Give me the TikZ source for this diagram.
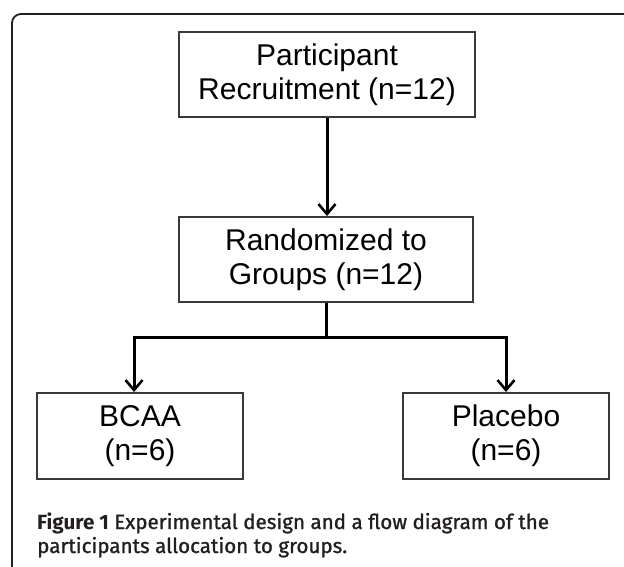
\documentclass[tikz,border=0pt]{standalone}
\usepackage{fontspec}
\setmainfont{Liberation Sans}
\newfontfamily\capfont{Fira Sans}
\newfontfamily\capfontheavy{Fira Sans}[FakeBold=1.2]
\usetikzlibrary{arrows.meta}
\definecolor{boxline}{HTML}{3A3A3A}
\definecolor{captext}{HTML}{231F20}
\tikzset{
  flowbox/.style={draw=boxline, line width=1.9pt, inner sep=0pt, align=center,
    font=\fontsize{30}{34}\selectfont},
  flowarrow/.style={line width=3pt, -{Straight Barb[length=10pt,width=17pt,line width=2.6pt]}},
  flowline/.style={line width=3pt},
}
\begin{document}
\begin{tikzpicture}[x=1pt,y=-1pt]
\useasboundingbox (0,0) rectangle (624,566);
% frame
\draw[line width=1.8pt, color=captext, rounded corners=9pt] (12,570) -- (12,14) -- (630,14);
% boxes
\node[flowbox, minimum width=296pt, minimum height=85pt] (recruit) at (327,74.5) {Participant\\Recruitment (n=12)};
\node[flowbox, minimum width=294pt, minimum height=85pt] (random) at (326,259.5) {Randomized to\\Groups (n=12)};
\node[flowbox, minimum width=206pt, minimum height=86pt] (bcaa) at (140,436) {BCAA\\(n=6)};
\node[flowbox, minimum width=206pt, minimum height=86pt] (placebo) at (506,436) {Placebo\\(n=6)};
% connectors
\coordinate (split) at (326,337);
\coordinate (leftturn) at (134,337);
\coordinate (rightturn) at (506,337);
\draw[flowarrow] (recruit.south -| 327,0) -- (random.north -| 327,0);
\draw[flowline] (random.south) -- (split);
\draw[flowarrow, line join=miter] (split) -- (leftturn) -- (leftturn |- bcaa.north);
\draw[flowarrow, line join=miter] (split) -- (rightturn) -- (placebo.north);
% caption
\node[anchor=base west, inner sep=0pt, text=captext, font=\capfontheavy\fontsize{20.6}{24}\selectfont] (cap1) at (37,529) {{\capfont\fontsize{20.6}{24}\selectfont\bfseries Figure 1} Experimental design and a flow diagram of the};
\node[anchor=base west, inner sep=0pt, text=captext, font=\capfontheavy\fontsize{20.6}{24}\selectfont] (cap2) at (37,553) {participants allocation to groups.};
\end{tikzpicture}
\end{document}
